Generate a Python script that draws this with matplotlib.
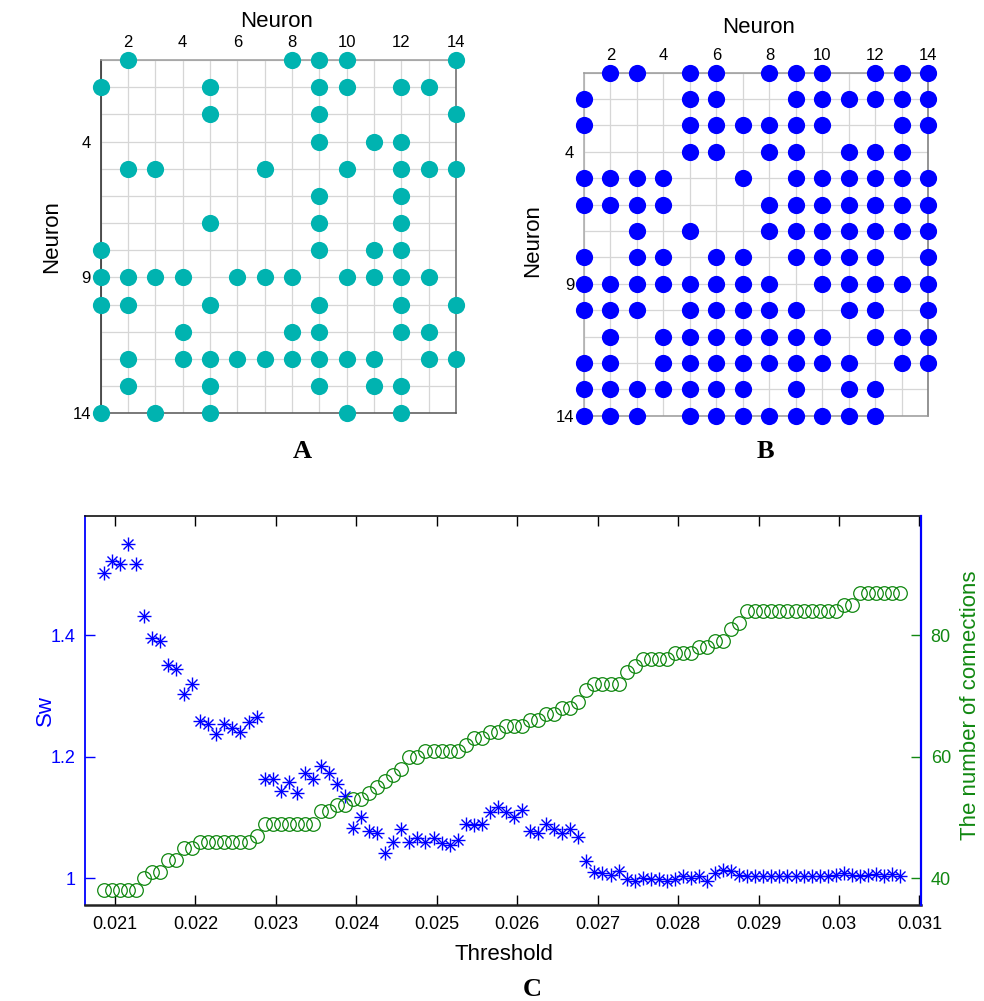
import numpy as np
import matplotlib
matplotlib.use("Agg")
import matplotlib.pyplot as plt

plt.rcParams['font.family'] = ['Liberation Sans', 'DejaVu Sans']

# ---------------- data ----------------
# Panel A: for each row (neuron 1..14) the connected columns
A_rows = [
    [2, 8, 9, 10, 14],
    [1, 5, 9, 10, 12, 13],
    [5, 9, 14],
    [9, 11, 12],
    [2, 3, 7, 10, 12, 13, 14],
    [9, 12],
    [5, 9, 12],
    [1, 9, 11, 12],
    [1, 2, 3, 4, 6, 7, 8, 10, 11, 12, 13],
    [1, 2, 5, 9, 12, 14],
    [4, 8, 9, 12, 13],
    [2, 4, 5, 6, 7, 8, 9, 10, 11, 13, 14],
    [2, 5, 9, 11, 12],
    [1, 3, 5, 10, 12],
]
# Panel B
B_rows = [
    [2, 3, 5, 6, 8, 9, 10, 12, 13, 14],
    [1, 5, 6, 9, 10, 11, 12, 13, 14],
    [1, 5, 6, 7, 8, 9, 10, 13, 14],
    [5, 6, 8, 9, 11, 12, 13],
    [1, 2, 3, 4, 7, 9, 10, 11, 12, 13, 14],
    [1, 2, 3, 4, 8, 9, 10, 11, 12, 13, 14],
    [3, 5, 8, 9, 10, 11, 12, 13, 14],
    [1, 3, 4, 6, 7, 9, 10, 11, 12, 14],
    [1, 2, 3, 4, 5, 6, 7, 8, 10, 11, 12, 13, 14],
    [1, 2, 3, 5, 6, 7, 8, 9, 11, 12, 14],
    [2, 4, 5, 6, 7, 8, 9, 10, 12, 13, 14],
    [1, 2, 4, 5, 6, 7, 8, 9, 10, 11, 13, 14],
    [1, 2, 3, 4, 5, 6, 7, 9, 11, 12],
    [1, 2, 3, 5, 6, 7, 8, 9, 10, 11, 12],
]
grid_xticklabels = ['', '2', '', '4', '', '6', '', '8', '', '10', '', '12', '', '14']
grid_yticklabels = ['', '', '', '4', '', '', '', '', '9', '', '', '', '', '14']

# Panel C
threshold = np.round(0.02086 + 0.0001 * np.arange(100), 6)
sw = [
    1.503, 1.522, 1.517, 1.550, 1.517, 1.431, 1.396, 1.391, 1.351, 1.345,
    1.303, 1.320, 1.259, 1.254, 1.238, 1.254, 1.248, 1.241, 1.257, 1.265,
    1.164, 1.164, 1.144, 1.158, 1.141, 1.173, 1.164, 1.185, 1.173, 1.155,
    1.135, 1.083, 1.101, 1.078, 1.074, 1.041, 1.060, 1.081, 1.060, 1.066,
    1.060, 1.066, 1.058, 1.055, 1.063, 1.089, 1.088, 1.089, 1.109, 1.117,
    1.109, 1.100, 1.112, 1.078, 1.074, 1.089, 1.081, 1.074, 1.081, 1.068,
    1.028, 1.011, 1.009, 1.005, 1.012, 0.999, 0.996, 1.000, 0.999, 0.999,
    0.996, 0.999, 1.003, 1.001, 1.003, 0.996, 1.009, 1.014, 1.012, 1.005,
    1.004, 1.004, 1.003, 1.004, 1.004, 1.003, 1.004, 1.004, 1.003, 1.004,
    1.004, 1.005, 1.008, 1.006, 1.004, 1.005, 1.007, 1.004, 1.007, 1.004,
]
connections = [
    38, 38, 38, 38, 38, 40, 41, 41, 43, 43,
    45, 45, 46, 46, 46, 46, 46, 46, 46, 47,
    49, 49, 49, 49, 49, 49, 49, 51, 51, 52,
    52, 53, 53, 54, 55, 56, 57, 58, 60, 60,
    61, 61, 61, 61, 61, 62, 63, 63, 64, 64,
    65, 65, 65, 66, 66, 67, 67, 68, 68, 69,
    71, 72, 72, 72, 72, 74, 75, 76, 76, 76,
    76, 77, 77, 77, 78, 78, 79, 79, 81, 82,
    84, 84, 84, 84, 84, 84, 84, 84, 84, 84,
    84, 84, 85, 85, 87, 87, 87, 87, 87, 87,
]
c_xticks = [0.021, 0.022, 0.023, 0.024, 0.025, 0.026, 0.027, 0.028, 0.029, 0.030, 0.031]
c_xticklabels = ['0.021', '0.022', '0.023', '0.024', '0.025', '0.026', '0.027',
                 '0.028', '0.029', '0.03', '0.031']
sw_ticks = [1.0, 1.2, 1.4]
sw_ticklabels = ['1', '1.2', '1.4']
conn_ticks = [40, 60, 80]
conn_ticklabels = ['40', '60', '80']

# ---------------- figure ----------------
W, H = 984, 1001
fig = plt.figure(figsize=(W / 100, H / 100), dpi=100)


def px_axes(x0, y0, x1, y1):
    return fig.add_axes([x0 / W, 1 - y1 / H, (x1 - x0) / W, (y1 - y0) / H])


def grid_panel(ax, rows, color, spine_cols):
    xs, ys = [], []
    for r, cols in enumerate(rows, start=1):
        for c in cols:
            xs.append(c)
            ys.append(r)
    ax.set_xlim(1, 14)
    ax.set_ylim(14, 1)
    ticks = list(range(1, 15))
    ax.set_xticks(ticks)
    ax.set_yticks(ticks)
    ax.set_xticklabels(grid_xticklabels)
    ax.set_yticklabels(grid_yticklabels)
    ax.xaxis.tick_top()
    ax.tick_params(axis='both', length=0, labelsize=12, pad=7)
    ax.grid(True, color='#d6d6d6', linewidth=0.9)
    ax.set_axisbelow(True)
    for side, col in spine_cols.items():
        ax.spines[side].set_color(col)
        ax.spines[side].set_linewidth(1.1)
    ax.plot(xs, ys, 'o', color=color, markersize=12.4, markeredgewidth=0,
            clip_on=False, zorder=5, linestyle='none')


axA = px_axes(100.7, 60, 456, 413.3)
grid_panel(axA, A_rows, '#00b3b0',
           {'left': '#222222', 'bottom': '#555555', 'top': '#9a9a9a', 'right': '#666666'})
axA.text(0.496, 1.110, 'Neuron', transform=axA.transAxes, ha='center', va='center', fontsize=16)
axA.text(-0.137, 0.499, 'Neuron', transform=axA.transAxes, ha='center', va='center',
         fontsize=16, rotation=90)

axB = px_axes(584, 72.7, 928.3, 415.7)
grid_panel(axB, B_rows, '#0000ff',
           {'left': '#aaaaaa', 'bottom': '#999999', 'top': '#999999', 'right': '#777777'})
axB.text(0.508, 1.133, 'Neuron', transform=axB.transAxes, ha='center', va='center', fontsize=16)
axB.text(-0.148, 0.512, 'Neuron', transform=axB.transAxes, ha='center', va='center',
         fontsize=16, rotation=90)

fig.text(302 / W, 1 - 452 / H, 'A', ha='center', va='center', fontsize=19,
         fontweight='bold', family='Liberation Serif')
fig.text(765 / W, 1 - 452 / H, 'B', ha='center', va='center', fontsize=19,
         fontweight='bold', family='Liberation Serif')
fig.text(532 / W, 1 - 989 / H, 'C', ha='center', va='center', fontsize=19,
         fontweight='bold', family='Liberation Serif')

# Panel C
blue = '#0000ff'
green = '#118811'
axC = px_axes(85, 516, 921, 905)
axC2 = axC.twinx()
axC.set_xlim(0.020627, 0.03102)
axC.set_ylim(0.956, 1.596)
axC2.set_ylim(35.6, 99.6)

axC2.plot(threshold, connections, 'o', markerfacecolor='none', markeredgecolor=green,
          markersize=9.8, markeredgewidth=0.9, linestyle='none')
axC.plot(threshold, sw, '+', color=blue, markersize=10.5, markeredgewidth=1.0, linestyle='none')
axC.plot(threshold, sw, 'x', color=blue, markersize=7.5, markeredgewidth=1.0, linestyle='none')

axC.set_xticks(c_xticks)
axC.set_xticklabels(c_xticklabels)
axC.set_yticks(sw_ticks)
axC.set_yticklabels(sw_ticklabels)
axC2.set_yticks(conn_ticks)
axC2.set_yticklabels(conn_ticklabels)

axC.tick_params(axis='x', direction='in', length=7, width=1, labelsize=13, pad=8,
                top=True, colors='black')
axC.tick_params(axis='y', direction='in', length=7, width=1, labelsize=13, pad=7,
                colors=blue, right=False)
axC2.tick_params(axis='y', direction='in', length=7, width=1, labelsize=13, pad=7,
                 colors=green)

axC.spines['left'].set_color(blue)
axC.spines['left'].set_linewidth(1.3)
axC.spines['top'].set_color('#111111')
axC.spines['top'].set_linewidth(1.2)
axC.spines['bottom'].set_color('#222222')
axC.spines['bottom'].set_linewidth(1.8)
axC.spines['right'].set_visible(False)
axC2.spines['right'].set_color(blue)
axC2.spines['right'].set_linewidth(1.6)
axC2.spines['left'].set_visible(False)
axC2.spines['top'].set_visible(False)
axC2.spines['bottom'].set_visible(False)

fig.text(504 / W, 1 - 954 / H, 'Threshold', ha='center', va='center', fontsize=16)
fig.text(45 / W, 1 - 710 / H, 'Sw', ha='center', va='center', fontsize=16,
         rotation=90, color=blue)
fig.text(970 / W, 1 - 705 / H, 'The number of connections', ha='center', va='center',
         fontsize=16, rotation=90, color=green)

fig.savefig('out.png', dpi=100)
